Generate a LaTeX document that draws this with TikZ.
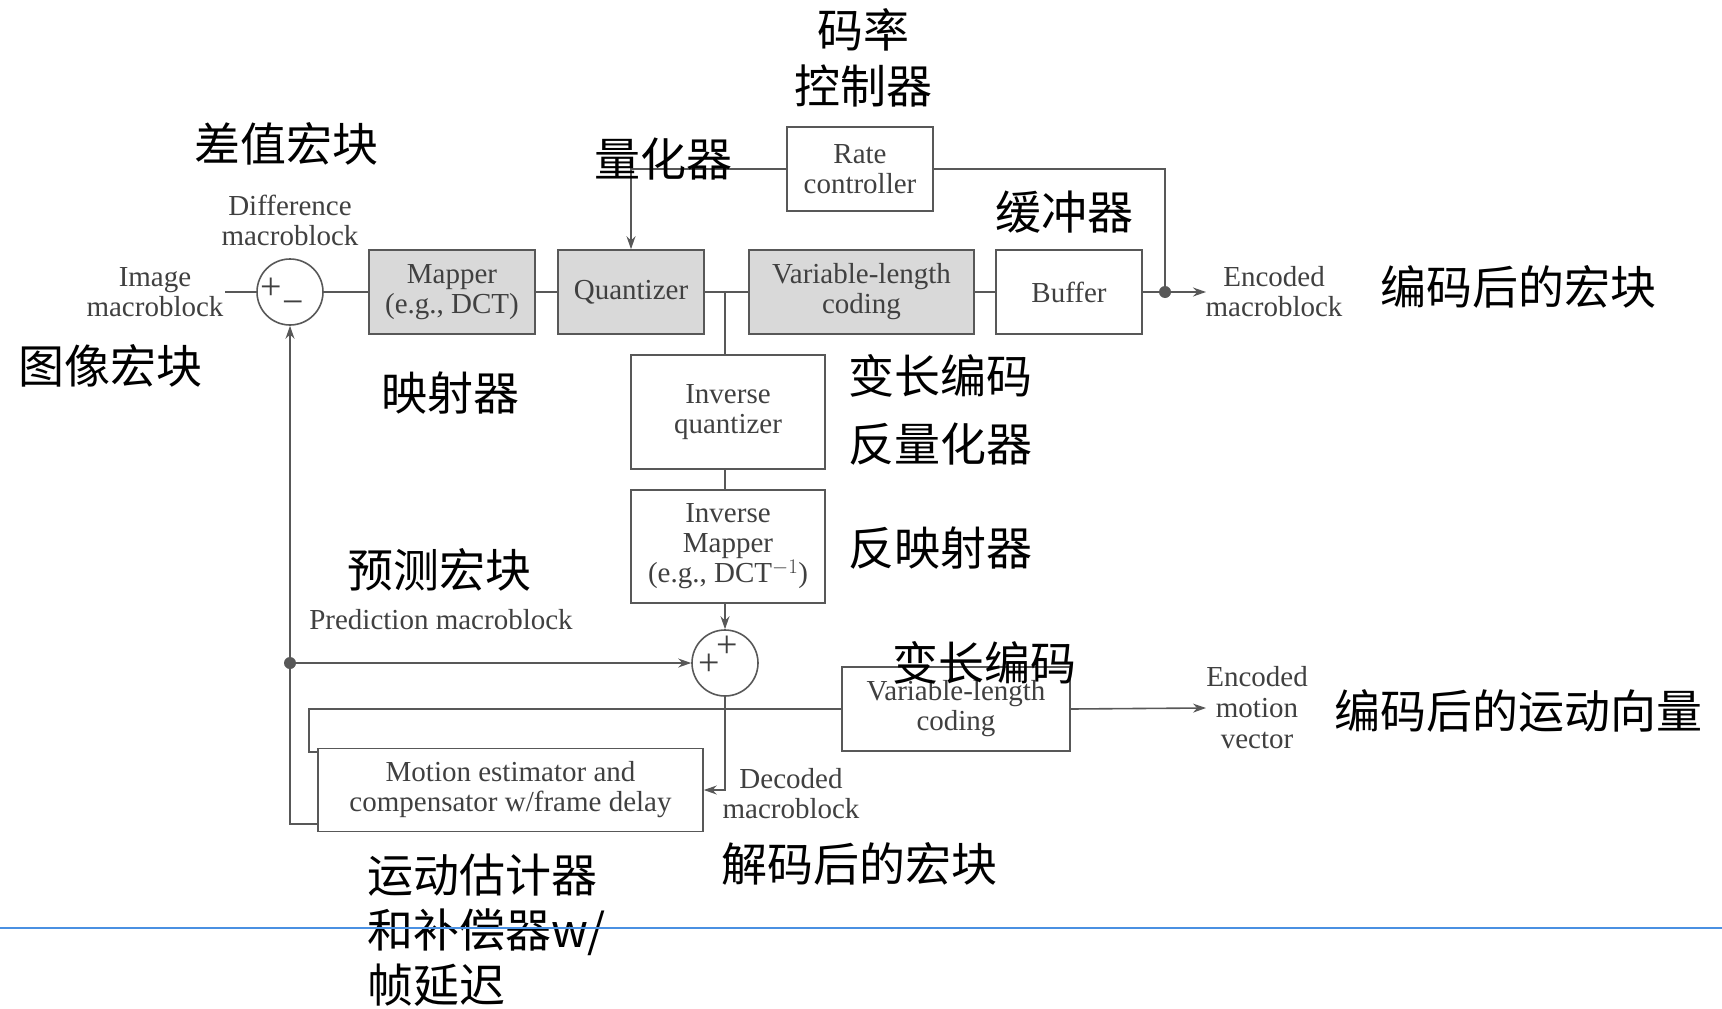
\documentclass[tikz,border=0pt]{standalone}
\usepackage{fontspec}
\setmainfont{Liberation Serif}
\newfontfamily\cjk{Noto Sans CJK SC}
\usetikzlibrary{arrows.meta}

\definecolor{linegray}{HTML}{585858}
\definecolor{textgray}{HTML}{404040}
\definecolor{boxfill}{HTML}{D9D9D9}
\definecolor{rulecol}{HTML}{4A90E2}

\newcommand\entxt{\fontsize{29}{30}\selectfont}
\newcommand\cntxt{\cjk\fontsize{46}{56}\selectfont}

\begin{document}
\begin{tikzpicture}[x=1pt,y=-1pt,
  blk/.style={draw=linegray, line width=1.6pt, text=textgray, font=\entxt,
    align=center, inner sep=0pt},
  grayblk/.style={blk, fill=boxfill},
  sumnode/.style={circle, draw=linegray, line width=1.6pt, minimum size=66pt,
    inner sep=0pt},
  sign/.style={text=textgray, font=\fontsize{38}{38}\selectfont, inner sep=0pt},
  lab/.style={text=textgray, font=\entxt, align=center, inner sep=0pt},
  cn/.style={text=black, font=\cntxt, align=center, inner sep=0pt},
  wire/.style={draw=linegray, line width=1.6pt},
  arr/.style={wire, -{Stealth[length=13pt,width=9pt]}},
  dot/.style={circle, fill=linegray, minimum size=12pt, inner sep=0pt}]

\fill[white] (0,0) rectangle (1722,1009);
\useasboundingbox (0,0) rectangle (1722,1009);

% ---- forward path ----
\node[sumnode] (sub) at (290,292) {};
\node[sign] (subp) at (271,289) {+};
\node[sign] (subm) at (293,308) {\textminus};
\node[grayblk, minimum width=166pt, minimum height=84pt] (map) at (452,292) {Mapper\\(e.g., DCT)};
\node[grayblk, minimum width=146pt, minimum height=84pt] (quant) at (631,292) {Quantizer};
\node[grayblk, minimum width=225pt, minimum height=84pt] (vlc) at (861.5,292) {Variable-length\\coding};
\node[blk, minimum width=146pt, minimum height=84pt] (buf) at (1069,292) {Buffer};
\node[blk, minimum width=146pt, minimum height=84pt] (rate) at (860,169) {Rate\\controller};
\node[dot] (d1) at (1165,292) {};
\coordinate (imgin) at (225,292);
\coordinate (encout) at (1206,292);
\coordinate (br) at (725,292);

% ---- reconstruction loop ----
\node[blk, minimum width=194pt, minimum height=114pt] (invq) at (728,412) {Inverse\\quantizer};
\node[blk, minimum width=194pt, minimum height=113pt] (invm) at (728,546.5) {Inverse\\Mapper\\(e.g., DCT$^{-1}$)};
\node[sumnode] (add) at (725,663) {};
\node[sign] (addp1) at (727,647) {+};
\node[sign] (addp2) at (709,665) {+};
\node[dot] (d2) at (290,663) {};
\node[blk, minimum width=228pt, minimum height=84pt] (vlc2) at (956,709) {Variable-length\\coding};
\node[blk, minimum width=385pt, minimum height=83pt] (mot) at (510.5,790) {Motion estimator and\\compensator w/frame delay};
\coordinate (mvin) at (318,752);
\coordinate (mout) at (318,824);
\coordinate (mvout) at (1206,708);
\coordinate (vq) at (725,469);
\coordinate (vm) at (725,603);

% ---- connectors ----
\draw[wire] (imgin) -- (sub.west);
\draw[wire] (sub.east) -- (map.west);
\draw[wire] (map.east) -- (quant.west);
\draw[wire] (quant.east) -- (vlc.west);
\draw[wire] (br) -- (br |- invq.north);
\draw[wire] (vlc.east) -- (buf.west);
\draw[wire] (buf.east) -- (d1);
\draw[arr] (d1) -- (encout);
\draw[arr] (rate.west) -| (quant.north);
\draw[wire] (rate.east) -| (d1);
\draw[wire] (vq) -- (vq |- invm.north);
\draw[arr] (vm) -- (add.north);
\draw[arr] (d2) -- (add.west);
\draw[arr] (add.south) |- (mot.east);
\draw[arr] (vlc2.east) -- (mvout);
\draw[wire] (vlc2.west) -| (309,752) -- (mvin);
\draw[arr] (mout) -| (sub.south);

% ---- English labels ----
\node[lab] (limg) at (155,292) {Image\\macroblock};
\node[lab] (ldiff) at (290,220) {Difference\\macroblock};
\node[lab] (lenc) at (1274,292) {Encoded\\macroblock};
\node[lab] (lpred) at (441,620) {Prediction macroblock};
\node[lab] (ldec) at (791,794) {Decoded\\macroblock};
\node[lab, font=\fontsize{29}{31}\selectfont] (lmv) at (1257,708) {Encoded\\motion\\vector};

% ---- Chinese annotations ----
\node[cn] (cdiff) at (286,144) {差值宏块};
\node[cn] (crate) at (863,58) {码率\\控制器};
\node[cn] (cquant) at (663,159) {量化器};
\node[cn] (cbuf) at (1064,212) {缓冲器};
\node[cn] (cenc) at (1518,287) {编码后的宏块};
\node[cn] (cimg) at (111,366) {图像宏块};
\node[cn] (cmap) at (450,393) {映射器};
\node[cn] (cvlc) at (940,376) {变长编码};
\node[cn] (cinvq) at (940,444) {反量化器};
\node[cn] (cinvm) at (940,548) {反映射器};
\node[cn] (cpred) at (439,570) {预测宏块};
\node[cn] (cvlc2) at (984,663) {变长编码};
\node[cn] (cmv) at (1518,711) {编码后的运动向量};
\node[cn] (cdec) at (859,864) {解码后的宏块};
\node[cn, align=left, anchor=west, font=\cjk\fontsize{46}{55}\selectfont] (cmot) at (367,930) {运动估计器\\和补偿器w/\\帧延迟};

% ---- page rule ----
\draw[rulecol, line width=2pt] (0,928) -- (1722,928);
\end{tikzpicture}
\end{document}
